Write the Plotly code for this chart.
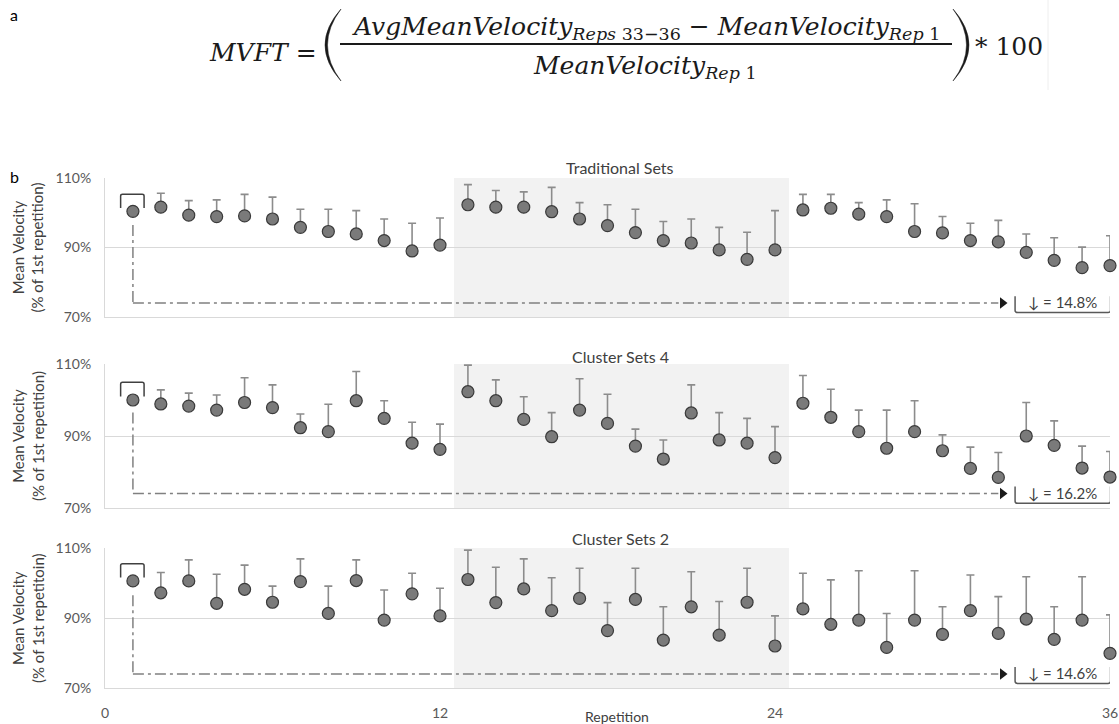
import plotly.graph_objects as go

W, H = 1119, 724

reps = list(range(1, 37))

trad_mean = [100.4, 101.6, 99.3, 98.9, 99.1, 98.2, 95.8, 94.6, 93.9, 92.0, 89.0, 90.7,
             102.3, 101.6, 101.6, 100.3, 98.2, 96.3, 94.3, 92.0, 91.3, 89.3, 86.6, 89.3,
             100.8, 101.3, 99.6, 98.9, 94.6, 94.2, 92.0, 91.6, 88.6, 86.3, 84.2, 84.8]
trad_sd = [0, 4.0, 4.2, 4.8, 6.2, 6.3, 5.2, 6.4, 6.7, 6.2, 8.0, 7.8,
           5.8, 4.8, 4.4, 7.0, 4.7, 6.0, 6.7, 5.5, 6.9, 6.5, 7.8, 11.3,
           4.5, 4.0, 3.3, 4.8, 8.0, 4.7, 5.0, 6.2, 5.3, 6.5, 5.9, 8.6]

c4_mean = [100.0, 98.9, 98.3, 97.2, 99.3, 97.9, 92.3, 91.2, 99.8, 94.9, 88.0, 86.3,
           102.3, 99.8, 94.6, 89.8, 97.2, 93.5, 87.2, 83.6, 96.4, 88.9, 88.0, 84.0,
           99.1, 95.2, 91.2, 86.6, 91.2, 85.9, 81.0, 78.5, 90.0, 87.4, 81.1, 78.6]
c4_sd = [0, 3.9, 3.6, 4.2, 6.9, 6.3, 3.8, 7.6, 8.1, 4.9, 5.8, 7.0,
         7.4, 5.8, 6.3, 6.7, 8.7, 8.1, 4.7, 5.3, 7.8, 7.6, 6.9, 8.6,
         7.7, 7.8, 6.0, 10.6, 8.6, 4.4, 5.9, 6.9, 9.3, 6.8, 6.1, 7.1]

c2_mean = [100.6, 97.2, 100.6, 94.2, 98.2, 94.5, 100.4, 91.3, 100.7, 89.4, 96.9, 90.6,
           101.0, 94.4, 98.3, 92.1, 95.6, 86.4, 95.3, 83.7, 93.2, 85.1, 94.5, 82.0,
           92.6, 88.2, 89.4, 81.6, 89.4, 85.3, 92.1, 85.6, 89.7, 83.9, 89.4, 79.9]
c2_sd = [0, 5.8, 6.0, 8.3, 6.9, 4.6, 6.5, 7.8, 5.9, 8.6, 5.9, 7.9,
         8.4, 10.1, 8.6, 9.4, 8.6, 8.0, 8.9, 9.5, 10.0, 9.6, 9.7, 8.6,
         10.2, 12.7, 14.1, 9.7, 14.1, 7.9, 10.2, 10.5, 12.1, 9.3, 12.4, 11.0]

panel_titles = ["Traditional Sets", "Cluster Sets 4", "Cluster Sets 2"]
drop_labels = ["14.8%", "16.2%", "14.6%"]
ytitles = ["Mean Velocity<br>(% of 1st repetition)",
           "Mean Velocity<br>(% of 1st repetition)",
           "Mean Velocity<br>(% of 1st repetitoin)"]
ytick_vals = [70, 90, 110]
ytick_text = ["70%", "90%", "110%"]
xtick_vals = [0, 12, 24, 36]

means = [trad_mean, c4_mean, c2_mean]
sds = [trad_sd, c4_sd, c2_sd]

# layout geometry in pixels (top, bottom) of each panel's plot area
panel_px = [(178, 317), (364, 508), (548, 688)]
x_left_px, x_right_px = 105, 1110
title_y_px = [167, 356, 538]

LEVEL = 74
ARROW_X = 32.15
LINE_END = 32.0
DROP_START = 96.5
SHADE = (12.5, 24.5)

def px(x):
    return x / W

def py(y):
    return 1 - y / H

def pann(x, y, text, size, color, family="Lato", xanchor="center", **kw):
    return dict(xref="paper", yref="paper", x=px(x), y=py(y), text=text,
                showarrow=False, xanchor=xanchor, yanchor="middle",
                font=dict(family=family, size=size, color=color), **kw)

fig = go.Figure()
shapes = []
annotations = []

for i in range(3):
    sfx = "" if i == 0 else str(i + 1)
    xa, ya = "x" + sfx, "y" + sfx
    top, bot = panel_px[i]
    fig.update_layout(**{
        "xaxis" + sfx: dict(domain=[px(x_left_px), px(x_right_px)], range=[0, 36],
                            anchor=ya, showgrid=False, zeroline=False,
                            showline=True, linecolor="#d9d9d9", linewidth=1,
                            tickvals=xtick_vals, showticklabels=(i == 2),
                            ticks="", ticklabelstandoff=12,
                            tickfont=dict(family="Lato", size=14, color="#595959"),
                            automargin=False, fixedrange=True),
        "yaxis" + sfx: dict(domain=[py(bot), py(top)], range=[70, 110], anchor=xa,
                            tickvals=ytick_vals, ticktext=ytick_text,
                            showgrid=True, gridcolor="#d9d9d9", gridwidth=1,
                            zeroline=False, showline=True, linecolor="#d9d9d9",
                            ticks="", ticklabelstandoff=10,
                            tickfont=dict(family="Lato", size=14, color="#595959"),
                            automargin=False, fixedrange=True),
    })

    # shaded middle set
    shapes.append(dict(type="rect", xref=xa, yref=ya, x0=SHADE[0], x1=SHADE[1],
                       y0=70, y1=110, fillcolor="#f2f2f2", line=dict(width=0),
                       layer="below"))
    # dash-dot guide lines
    dash = "11px,4px,3px,4px"
    shapes.append(dict(type="line", xref=xa, yref=ya, x0=1, x1=1, y0=DROP_START, y1=LEVEL,
                       line=dict(color="#808080", width=1.5, dash=dash)))
    shapes.append(dict(type="line", xref=xa, yref=ya, x0=1, x1=LINE_END, y0=LEVEL, y1=LEVEL,
                       line=dict(color="#808080", width=1.5, dash=dash)))
    # bracket over first repetition
    m1 = means[i][0]
    b0, b1 = m1 + 1.0, m1 + 4.9
    shapes.append(dict(type="path", xref=xa, yref=ya,
                       path=f"M 0.56,{b0} L 0.56,{b1-0.5} Q 0.56,{b1} 0.63,{b1} "
                            f"L 1.33,{b1} Q 1.4,{b1} 1.4,{b1-0.5} L 1.4,{b0}",
                       line=dict(color="#404040", width=1.5)))
    # bracket around the drop label
    shapes.append(dict(type="path", xref=xa, yref=ya,
                       path="M 32.6,76 L 32.6,71.9 Q 32.6,71.3 32.7,71.3 "
                            "L 35.93,71.3 Q 36.02,71.3 36.02,71.9 L 36.02,76",
                       line=dict(color="#595959", width=1.5)))

    fig.add_trace(go.Scatter(
        x=reps, y=means[i], xaxis=xa, yaxis=ya, mode="markers",
        marker=dict(size=12, color="#7a7a7a", line=dict(color="#3a3a3a", width=1.2)),
        error_y=dict(type="data", symmetric=False, array=sds[i],
                     arrayminus=[0] * len(reps), color="#8c8c8c",
                     thickness=1.6, width=4),
        cliponaxis=False, showlegend=False, hoverinfo="skip"))
    fig.add_trace(go.Scatter(
        x=[ARROW_X], y=[LEVEL], xaxis=xa, yaxis=ya, mode="markers",
        marker=dict(symbol="triangle-right", size=10, color="#1a1a1a"),
        cliponaxis=False, showlegend=False, hoverinfo="skip"))

    annotations.append(dict(xref=xa, yref=ya, x=34.3, y=LEVEL + 0.2,
                            text="↓ = " + drop_labels[i], showarrow=False,
                            xanchor="center", yanchor="middle",
                            font=dict(family="Lato", size=15, color="#404040")))
    annotations.append(pann(620, title_y_px[i], panel_titles[i], 16, "#404040"))
    annotations.append(pann(28, (top + bot) / 2, ytitles[i], 15, "#404040",
                            textangle=-90))

# x axis title
annotations.append(pann(617, 716, "Repetition", 14, "#404040"))
# panel letters
annotations.append(pann(8, 15, "a", 16, "#000000", xanchor="left"))
annotations.append(pann(8, 176, "b", 16, "#000000", xanchor="left"))

# formula
FF = "DejaVu Serif"
FS = 25
fcol = "#1a1a1a"
annotations.append(pann(207, 52, "<i>MVFT</i> =", FS, fcol, family=FF, xanchor="left"))
annotations.append(pann(646, 28,
                        "<i>AvgMeanVelocity</i><sub><i>Reps</i> 33−36</sub> − "
                        "<i>MeanVelocity</i><sub><i>Rep</i> 1</sub>", FS, fcol, family=FF))
annotations.append(pann(645, 67, "<i>MeanVelocity</i><sub><i>Rep</i> 1</sub>",
                        FS, fcol, family=FF))
annotations.append(pann(973, 47, "* 100", FS, fcol, family=FF, xanchor="left"))

# fraction bar
shapes.append(dict(type="line", xref="paper", yref="paper", x0=px(340), x1=px(952),
                   y0=py(44), y1=py(44), line=dict(color=fcol, width=2)))
# parentheses as filled crescents
lp = (f"M {px(341)},{py(9)} Q {px(309)},{py(45)} {px(341)},{py(81)} "
      f"Q {px(314)},{py(45)} {px(341)},{py(9)} Z")
rp = (f"M {px(953)},{py(9)} Q {px(985)},{py(45)} {px(953)},{py(81)} "
      f"Q {px(980)},{py(45)} {px(953)},{py(9)} Z")
shapes.append(dict(type="path", xref="paper", yref="paper", path=lp,
                   fillcolor=fcol, line=dict(color=fcol, width=0.5)))
shapes.append(dict(type="path", xref="paper", yref="paper", path=rp,
                   fillcolor=fcol, line=dict(color=fcol, width=0.5)))
# faint frame edge right of formula
shapes.append(dict(type="line", xref="paper", yref="paper", x0=px(1048), x1=px(1048),
                   y0=py(0), y1=py(90), line=dict(color="#eeeeee", width=1)))

fig.update_layout(width=W, height=H, margin=dict(l=0, r=0, t=0, b=0),
                  paper_bgcolor="white", plot_bgcolor="white",
                  shapes=shapes, annotations=annotations, showlegend=False,
                  font=dict(family="Lato"))

fig.write_html("out.html", config={"displayModeBar": False})
